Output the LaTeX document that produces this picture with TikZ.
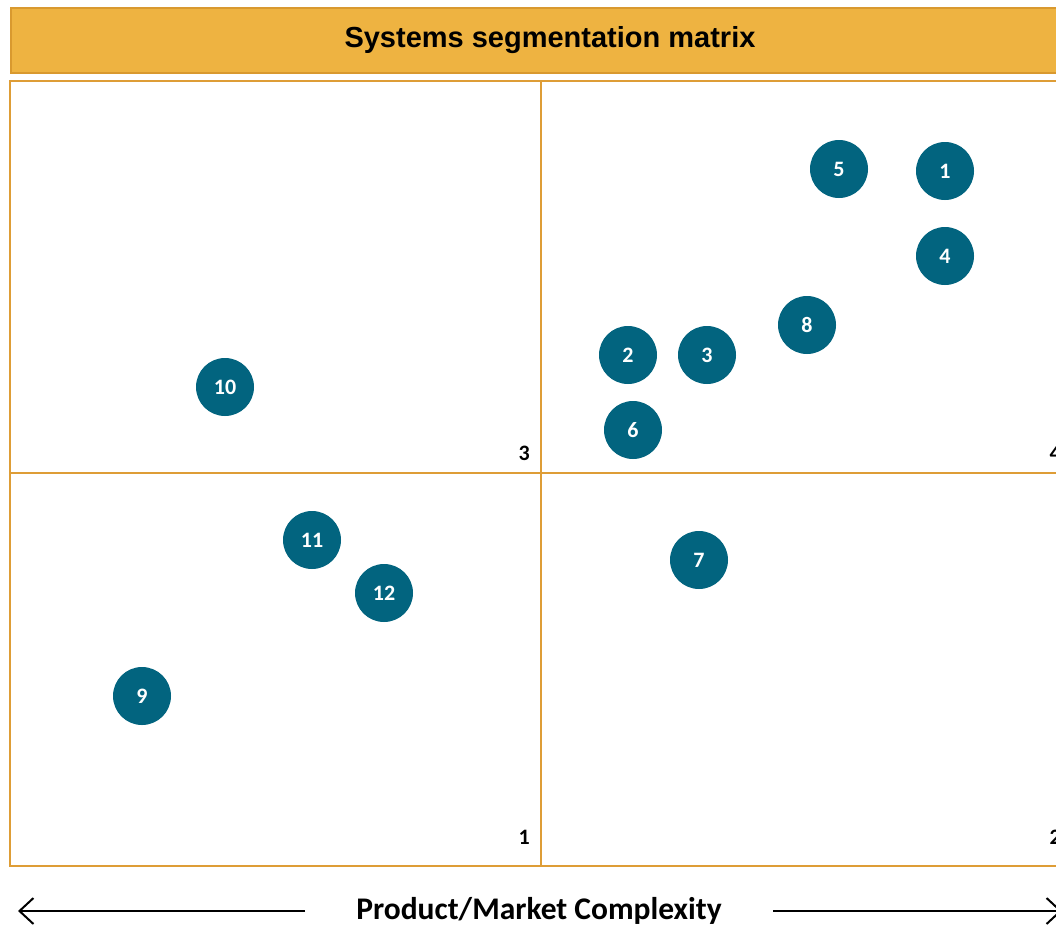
\documentclass[tikz,border=0pt]{standalone}
\usepackage{fontspec}
\setmainfont{Liberation Sans}
\newfontfamily\calib{Carlito}
\usetikzlibrary{arrows.meta}
\definecolor{barfill}{HTML}{EEB341}
\definecolor{barline}{HTML}{D9992F}
\definecolor{gridline}{HTML}{DE9D36}
\definecolor{dot}{HTML}{02647F}
\tikzset{
  dotnode/.style={circle, fill=dot, minimum size=58pt, inner sep=0pt, text=white, font=\calib\bfseries\fontsize{22}{22}\selectfont},
  quadlabel/.style={anchor=east, inner sep=0pt, font=\calib\bfseries\fontsize{22}{22}\selectfont},
  axisarrow/.style={line width=2pt, -{Straight Barb[length=14pt,width=26pt,line width=2pt]}}
}
\begin{document}
\begin{tikzpicture}[x=1pt,y=-1pt]
\useasboundingbox (0,0) rectangle (1056,929);
\fill[white] (0,0) rectangle (1056,929);
% title bar
\node[draw=barline, line width=2pt, fill=barfill, minimum width=1080pt, minimum height=65pt, anchor=north west, inner sep=0pt] (title) at (10,7) {};
\node[font=\bfseries\fontsize{29}{29}\selectfont] (titletext) at (550,40) {Systems segmentation matrix};
% grid
\draw[gridline, line width=2.5pt] (10,81) rectangle (1072,866);
\draw[gridline, line width=2.5pt] (541,81) -- (541,866);
\draw[gridline, line width=2.5pt] (10,473) -- (1072,473);
% quadrant labels
\node[quadlabel] (q3) at (530,453) {3};
\node[quadlabel] (q4) at (1061,453) {4};
\node[quadlabel] (q1) at (530,837) {1};
\node[quadlabel] (q2) at (1061,837) {2};
% dots
\node[dotnode] (n5) at (839,169) {5};
\node[dotnode] (n1) at (945,171) {1};
\node[dotnode] (n4) at (945,256) {4};
\node[dotnode] (n8) at (807,325) {8};
\node[dotnode] (n2) at (628,355) {2};
\node[dotnode] (n3) at (707,355) {3};
\node[dotnode] (n6) at (633,430) {6};
\node[dotnode] (n10) at (225,387) {10};
\node[dotnode] (n11) at (312,540) {11};
\node[dotnode] (n12) at (384,593) {12};
\node[dotnode] (n9) at (142,696) {9};
\node[dotnode] (n7) at (699,560) {7};
% axis
\node[font=\calib\bfseries\fontsize{31.5}{31.5}\selectfont] (axis) at (539,911) {Product/Market Complexity};
\coordinate (la) at (305,911);
\coordinate (lb) at (18,911);
\coordinate (ra) at (773,911);
\coordinate (rb) at (1062,911);
\draw[axisarrow] (la) -- (lb);
\draw[axisarrow] (ra) -- (rb);
\end{tikzpicture}
\end{document}
